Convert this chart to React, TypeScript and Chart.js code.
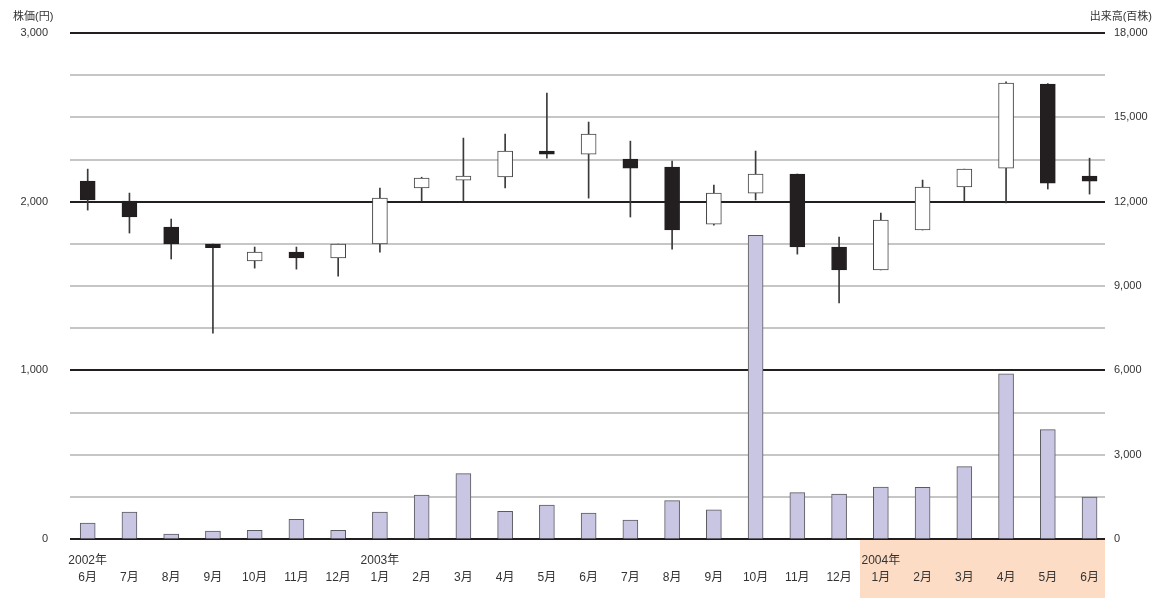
import React, { useEffect, useRef } from 'react';
import { Chart, registerables } from 'chart.js';

Chart.register(...registerables);

// ---- data ----
const yearLabels = ['2002年', '', '', '', '', '', '', '2003年', '', '', '', '', '', '', '', '', '', '', '', '2004年', '', '', '', '', ''];
const monthLabels = ['6月', '7月', '8月', '9月', '10月', '11月', '12月', '1月', '2月', '3月', '4月', '5月', '6月', '7月', '8月', '9月', '10月', '11月', '12月', '1月', '2月', '3月', '4月', '5月', '6月'];

const openPrices = [2122, 2004, 1849, 1749, 1648, 1701, 1666, 1749, 2081, 2128, 2146, 2300, 2282, 2253, 2205, 1867, 2051, 2164, 1731, 1595, 1832, 2087, 2199, 2697, 2152];
const highPrices = [2193, 2051, 1897, 1749, 1731, 1731, 1749, 2081, 2145, 2377, 2401, 2644, 2472, 2359, 2241, 2098, 2300, 2164, 1790, 1932, 2128, 2193, 2710, 2700, 2258];
const lowPrices = [1950, 1814, 1660, 1221, 1606, 1600, 1559, 1701, 2004, 2004, 2081, 2258, 2021, 1909, 1719, 1860, 2010, 1689, 1399, 1595, 1832, 2004, 1992, 2075, 2045];
const closePrices = [2010, 1909, 1749, 1727, 1701, 1666, 1749, 2021, 2140, 2152, 2300, 2282, 2401, 2199, 1832, 2051, 2164, 1731, 1595, 1891, 2087, 2193, 2703, 2110, 2122];

const volumes = [570, 960, 178, 285, 306, 697, 306, 960, 1565, 2323, 982, 1210, 925, 676, 1363, 1042, 10800, 1647, 1600, 1850, 1838, 2572, 5880, 3888, 1494];

const priceTicks = [0, 250, 500, 750, 1000, 1250, 1500, 1750, 2000, 2250, 2500, 2750, 3000];
const priceLabeledTicks = [0, 1000, 2000, 3000];
const volumeTicks = [0, 3000, 6000, 9000, 12000, 15000, 18000];

const priceTitle = '株価(円)';
const volumeTitle = '出来高(百株)';
const highlightYear = '2004年';

const FONT = "'Liberation Sans', 'Noto Sans CJK JP', sans-serif";
const TEXT = '#333333';

export default function App() {
  const ref = useRef<HTMLCanvasElement | null>(null);

  useEffect(() => {
    const canvas = ref.current;
    if (!canvas) return;
    const idx = monthLabels.map((_, i) => i);
    const isDown = idx.map((i) => closePrices[i] < openPrices[i]);
    const highlightStart = yearLabels.indexOf(highlightYear);

    const decor = {
      id: 'decor',
      beforeDraw(chart: any) {
        const { ctx, chartArea, scales } = chart;
        const x0 = scales.x.getPixelForValue(highlightStart - 0.5);
        ctx.save();
        ctx.fillStyle = '#fcdcc5';
        ctx.fillRect(x0, chartArea.bottom + 1, chartArea.right - x0, chart.height - chartArea.bottom - 1);
        ctx.restore();
      },
      afterDraw(chart: any) {
        const { ctx } = chart;
        ctx.save();
        ctx.font = `11px ${FONT}`;
        ctx.fillStyle = TEXT;
        ctx.textBaseline = 'middle';
        ctx.textAlign = 'left';
        ctx.fillText(priceTitle, 13, 17);
        ctx.textAlign = 'right';
        ctx.fillText(volumeTitle, chart.width - 12, 17);
        ctx.restore();
      },
    };

    const chart = new Chart(canvas, {
      type: 'bar',
      data: {
        datasets: [
          {
            label: 'body',
            order: 0,
            data: idx.map((i) => ({ x: i, y: [openPrices[i], closePrices[i]] })),
            backgroundColor: idx.map((i) => (isDown[i] ? '#231f20' : '#ffffff')),
            borderColor: idx.map((i) => (isDown[i] ? '#231f20' : '#444444')),
            borderWidth: 1,
            borderSkipped: false,
            barThickness: 15,
            grouped: false,
            yAxisID: 'y',
          } as any,
          {
            label: 'wick',
            order: 1,
            data: idx.map((i) => ({ x: i, y: [lowPrices[i], highPrices[i]] })),
            backgroundColor: '#3a3a3a',
            borderWidth: 0,
            barThickness: 1,
            grouped: false,
            yAxisID: 'y',
          } as any,
          {
            label: 'volume',
            order: 2,
            data: idx.map((i) => ({ x: i, y: volumes[i] })),
            backgroundColor: '#c9c6e3',
            borderColor: '#5a5a60',
            borderWidth: 1,
            barThickness: 15,
            grouped: false,
            yAxisID: 'y2',
          } as any,
        ],
      },
      options: {
        responsive: false,
        animation: false,
        events: [],
        devicePixelRatio: 1,
        layout: { padding: { top: 33, left: 0, right: 0, bottom: 0 } },
        plugins: { legend: { display: false }, tooltip: { enabled: false } },
        scales: {
          x: {
            type: 'linear',
            offset: false,
            min: -0.424,
            max: 24.37,
            grid: { display: false },
            border: { display: false },
            afterBuildTicks: (s: any) => {
              s.ticks = idx.map((i) => ({ value: i }));
            },
            afterFit: (s: any) => {
              s.height = 59;
            },
            ticks: {
              autoSkip: false,
              maxRotation: 0,
              padding: 6,
              color: TEXT,
              font: { family: FONT, size: 12, lineHeight: 1.35 },
              callback: (v: any) => {
                const i = Math.round(Number(v));
                return [yearLabels[i] || '', monthLabels[i] || ''];
              },
            },
          },
          y: {
            type: 'linear',
            position: 'left',
            min: 0,
            max: 3000,
            afterBuildTicks: (s: any) => {
              s.ticks = priceTicks.map((v) => ({ value: v }));
            },
            afterFit: (s: any) => {
              s.width = 70;
            },
            border: { display: false },
            grid: {
              drawTicks: false,
              color: (c: any) => (c.tick && priceLabeledTicks.includes(c.tick.value) ? '#231f20' : '#c6c6c6'),
              lineWidth: 2,
            },
            ticks: {
              padding: 22,
              color: TEXT,
              font: { family: FONT, size: 11 },
              callback: (v: any) => (priceLabeledTicks.includes(Number(v)) ? Number(v).toLocaleString('en-US') : ''),
            },
          },
          y2: {
            type: 'linear',
            position: 'right',
            min: 0,
            max: 18000,
            afterBuildTicks: (s: any) => {
              s.ticks = volumeTicks.map((v) => ({ value: v }));
            },
            afterFit: (s: any) => {
              s.width = 59;
            },
            border: { display: false },
            grid: { drawOnChartArea: false, drawTicks: false },
            ticks: {
              padding: 9,
              color: TEXT,
              font: { family: FONT, size: 11 },
              callback: (v: any) => Number(v).toLocaleString('en-US'),
            },
          },
        },
      } as any,
      plugins: [decor],
    });

    return () => chart.destroy();
  }, []);

  return (
    <div style={{ position: 'fixed', left: 0, top: 0, width: 1164, height: 598, background: '#fff' }}>
      <canvas ref={ref} width={1164} height={598} style={{ display: 'block', width: 1164, height: 598 }} />
    </div>
  );
}
